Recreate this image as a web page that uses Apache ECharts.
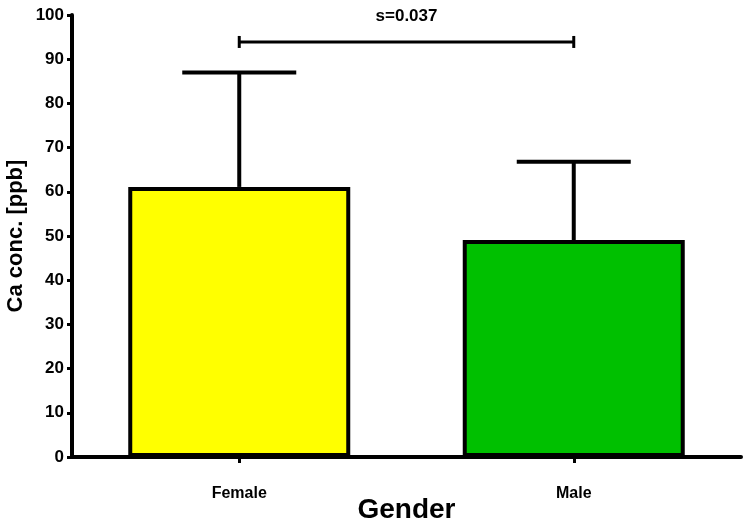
<!DOCTYPE html>
<html>
<head>
<meta charset="utf-8">
<title>Ca conc. by gender</title>
<script src="https://cdn.jsdelivr.net/npm/echarts@6/dist/echarts.min.js"></script>
<style>
  html, body { margin: 0; padding: 0; background: #fff; }
</style>
</head>
<body>
<div id="main" style="width:748px;height:528px;"></div>
<script type="text/javascript">
var categories = ['Female', 'Male'];
var means = [61.1, 49.1];
var sds = [25.9, 17.7];
var barColors = ['#ffff00', '#00c000'];
var yTicks = [0, 100, 10];      // min, max, step
var sigFrom = 0, sigTo = 1, sigY = 93.9, sigText = 's=0.037';

var chart = echarts.init(document.getElementById('main'));
var font = 'Arial, "Liberation Sans", sans-serif';

var errData = means.map(function (m, i) { return [i, m, m + sds[i]]; });

chart.setOption({
    animation: false,
    grid: { left: 72, right: 7, top: 15, bottom: 71, outerBoundsMode: 'none', containLabel: false },
    xAxis: {
        type: 'category',
        data: categories,
        name: 'Gender',
        nameLocation: 'middle',
        nameGap: 39,
        nameMoveOverlap: false,
        nameTextStyle: { fontFamily: font, fontWeight: 'bold', fontSize: 28, color: '#000' },
        axisLine: { lineStyle: { color: '#000', width: 4 } },
        axisTick: { show: true, alignWithLabel: true, length: 6, lineStyle: { color: '#000', width: 3 } },
        axisLabel: { fontFamily: font, fontWeight: 'bold', fontSize: 16, color: '#000', margin: 29 },
        splitLine: { show: false }
    },
    yAxis: {
        type: 'value',
        min: yTicks[0], max: yTicks[1], interval: yTicks[2],
        name: 'Ca conc. [ppb]',
        nameLocation: 'middle',
        nameGap: 45,
        nameMoveOverlap: false,
        nameTextStyle: { fontFamily: font, fontWeight: 'bold', fontSize: 22, color: '#000' },
        axisLine: { show: true, lineStyle: { color: '#000', width: 4 } },
        axisTick: { show: true, length: 5, lineStyle: { color: '#000', width: 3 } },
        axisLabel: { fontFamily: font, fontWeight: 'bold', fontSize: 17, color: '#000', margin: 8 },
        splitLine: { show: false }
    },
    series: [
        {
            type: 'custom',
            z: 1,
            data: errData,
            renderItem: function (params, api) {
                var base = api.coord([api.value(0), api.value(1)]);
                var top = api.coord([api.value(0), api.value(2)]);
                var hw = 57;
                var st = { stroke: '#000', lineWidth: 4 };
                return {
                    type: 'group',
                    children: [
                        { type: 'line', shape: { x1: base[0], y1: base[1], x2: top[0], y2: top[1] }, style: st },
                        { type: 'line', shape: { x1: top[0] - hw, y1: top[1], x2: top[0] + hw, y2: top[1] }, style: st }
                    ]
                };
            }
        },
        {
            type: 'bar',
            z: 2,
            barWidth: 222,
            data: means.map(function (v, i) {
                return { value: v, itemStyle: { color: barColors[i] } };
            }),
            itemStyle: { borderColor: '#000', borderWidth: 4 }
        },
        {
            type: 'custom',
            z: 3,
            data: [[sigFrom, sigTo, sigY]],
            renderItem: function (params, api) {
                var a = api.coord([api.value(0), api.value(2)]);
                var b = api.coord([api.value(1), api.value(2)]);
                var st = { stroke: '#000', lineWidth: 3 };
                return {
                    type: 'group',
                    children: [
                        { type: 'line', shape: { x1: a[0], y1: a[1], x2: b[0], y2: b[1] }, style: st },
                        { type: 'line', shape: { x1: a[0], y1: a[1] - 6, x2: a[0], y2: a[1] + 6 }, style: st },
                        { type: 'line', shape: { x1: b[0], y1: b[1] - 6, x2: b[0], y2: b[1] + 6 }, style: st },
                        {
                            type: 'text',
                            x: (a[0] + b[0]) / 2, y: a[1] - 26,
                            style: {
                                text: sigText, fill: '#000', fontFamily: font, fontWeight: 'bold', fontSize: 17,
                                align: 'center', verticalAlign: 'middle'
                            }
                        }
                    ]
                };
            }
        }
    ]
});
</script>
</body>
</html>
